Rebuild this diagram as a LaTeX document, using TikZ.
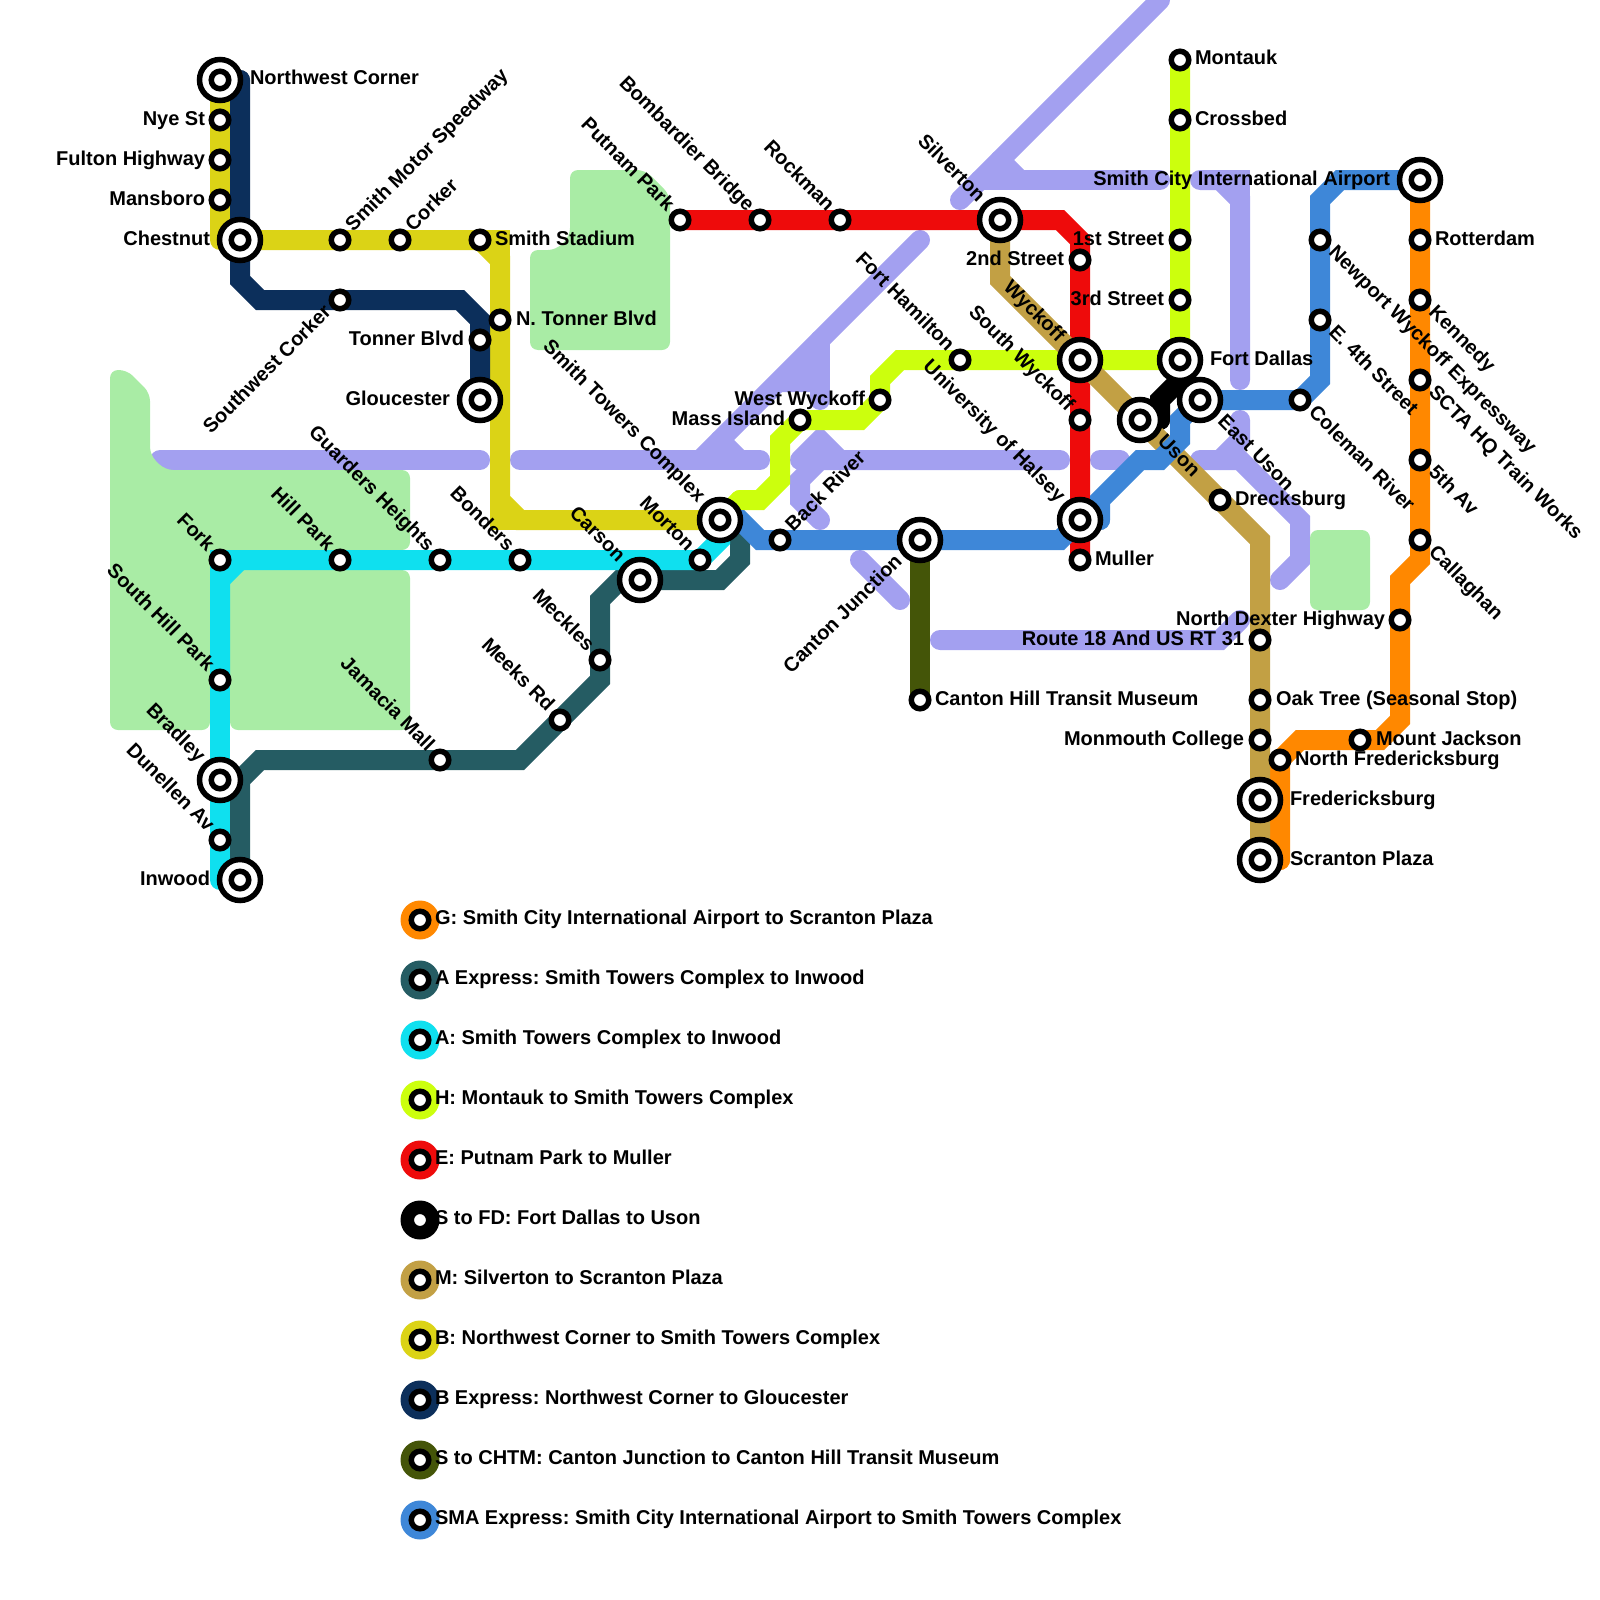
\documentclass[tikz,border=0pt]{standalone}
\usepackage{fontspec}
\setmainfont{Liberation Sans}
\usetikzlibrary{calc}
\pgfdeclarelayer{bg}
\pgfsetlayers{bg,main}
\definecolor{cpark}{HTML}{A9ECA5}
\definecolor{clav}{HTML}{A3A0F0}
\definecolor{cG}{HTML}{FF8800}
\definecolor{cAX}{HTML}{255C63}
\definecolor{cA}{HTML}{0FE0EF}
\definecolor{cH}{HTML}{CCFF0D}
\definecolor{cE}{HTML}{EE0B0B}
\definecolor{cM}{HTML}{C2A044}
\definecolor{cB}{HTML}{DBD316}
\definecolor{cBX}{HTML}{0C2F5B}
\definecolor{cS}{HTML}{445508}
\definecolor{cSMA}{HTML}{3E87D8}
\tikzset{
  smallst/.style={circle,draw=black,fill=white,line width=5.5pt,minimum size=17.5pt,inner sep=0pt,outer sep=0pt},
  bigst/.style={circle,draw=black,fill=white,line width=5.5pt,minimum size=41pt,inner sep=0pt,outer sep=0pt},
  lbl/.style={font=\fontsize{20}{20}\selectfont\bfseries\frenchspacing,inner sep=0pt,outer sep=0pt,text=black},
  route/.style={line width=20pt,line cap=round,line join=miter,miter limit=10},
  roundroute/.style={line width=20pt,line cap=round,line join=round},
  keydot/.style={circle,minimum size=39pt,inner sep=0pt,outer sep=0pt},
  park/.style={fill=cpark,rounded corners=8pt}
}
\newcommand{\stn}[3]{\node[smallst] (#1) at (#2,#3) {};}
\newcommand{\bigstn}[3]{\node[bigst] (#1) at (#2,#3) {};\node[smallst] (#1i) at (#1.center) {};}
\newcommand{\lR}[3]{\node[lbl,anchor=base west] (#1-l) at ($(#1.center)+(#2,5)$) {#3};}
\newcommand{\lL}[3]{\node[lbl,anchor=base east] (#1-l) at ($(#1.center)+(-#2,5)$) {#3};}
\newcommand{\lSE}[3]{\node[lbl,rotate=-45,anchor=base west] (#1-l) at ($(#1.center)+({0.707*#2-2.83},{0.707*#2+2.83})$) {#3};}
\newcommand{\lNW}[3]{\node[lbl,rotate=-45,anchor=base east] (#1-l) at ($(#1.center)+({-0.707*#2-2.83},{-0.707*#2+2.83})$) {#3};}
\newcommand{\lNE}[3]{\node[lbl,rotate=45,anchor=base west] (#1-l) at ($(#1.center)+({0.707*#2+2.83},{-0.707*#2+2.83})$) {#3};}
\newcommand{\lSW}[3]{\node[lbl,rotate=45,anchor=base east] (#1-l) at ($(#1.center)+({-0.707*#2+2.83},{0.707*#2+2.83})$) {#3};}
\newcommand{\keyrow}[4]{%
  \node[keydot,fill=#2] (key#1) at (420,#3) {};
  \node[smallst] (key#1i) at (key#1.center) {};
  \node[lbl,anchor=base west] (key#1t) at (435,#3+4) {#4};}
\begin{document}
\begin{tikzpicture}[x=1pt,y=-1pt]
\useasboundingbox (0,0) rectangle (1600,1600);
\clip (0,0) rectangle (1600,1600);
% stations
\bigstn{nwc}{220}{80}
\stn{nye}{220}{120}
\stn{fulton}{220}{160}
\stn{mansboro}{220}{200}
\bigstn{chestnut}{240}{240}
\stn{smithmotor}{340}{240}
\stn{corker}{400}{240}
\stn{stadium}{480}{240}
\stn{swcorker}{340}{300}
\stn{ntonner}{500}{320}
\stn{tonner}{480}{340}
\bigstn{gloucester}{480}{400}
\stn{fork}{220}{560}
\stn{hillpark}{340}{560}
\stn{guarders}{440}{560}
\stn{bonders}{520}{560}
\bigstn{carson}{640}{580}
\stn{morton}{700}{560}
\bigstn{towers}{720}{520}
\stn{backriver}{780}{540}
\bigstn{canton}{920}{540}
\stn{muller}{1080}{560}
\bigstn{halsey}{1080}{520}
\stn{swyckoff}{1080}{420}
\bigstn{wyckoff}{1080}{360}
\stn{hamilton}{960}{360}
\stn{wwyckoff}{880}{400}
\stn{mass}{800}{420}
\bigstn{silverton}{1000}{220}
\stn{second}{1080}{260}
\stn{first}{1180}{240}
\stn{third}{1180}{300}
\bigstn{dallas}{1180}{360}
\bigstn{uson}{1140}{420}
\bigstn{euson}{1200}{400}
\stn{coleman}{1300}{400}
\stn{efourth}{1320}{320}
\stn{newport}{1320}{240}
\bigstn{airport}{1420}{180}
\stn{rotterdam}{1420}{240}
\stn{kennedy}{1420}{300}
\stn{scta}{1420}{380}
\stn{fifth}{1420}{460}
\stn{callaghan}{1420}{540}
\stn{ndexter}{1400}{620}
\stn{jackson}{1360}{740}
\stn{nfred}{1280}{760}
\bigstn{fred}{1260}{800}
\bigstn{scranton}{1260}{860}
\stn{oak}{1260}{700}
\stn{monmouth}{1260}{740}
\stn{routeeighteen}{1260}{640}
\stn{drecksburg}{1220}{500}
\stn{museum}{920}{700}
\stn{montauk}{1180}{60}
\stn{crossbed}{1180}{120}
\stn{putnam}{680}{220}
\stn{bombardier}{760}{220}
\stn{rockman}{840}{220}
\stn{shpark}{220}{680}
\bigstn{bradley}{220}{780}
\stn{dunellen}{220}{840}
\bigstn{inwood}{240}{880}
\stn{jamacia}{440}{760}
\stn{meeks}{560}{720}
\stn{meckles}{600}{660}
% lines
\begin{pgfonlayer}{bg}
\begin{scope}[clav,route]
\draw (160,460) -- (480,460);
\draw (520,460) -- (760,460);
\draw (700,460) -- (920,240);
\draw (720,440) -- (740,460);
\draw (820,340) -- (820,400);
\fill (770,392) -- (814,348) -- (814,392) -- cycle;
\draw (820,520) -- (800,500) -- (800,480) -- (820,460) -- (1060,460);
\draw (800,460) -- (820,440) -- (840,460);
\draw (1100,460) -- (1120,460);
\draw (1160,0) -- (960,200);
\draw (980,180) -- (1160,180);
\draw (1000,160) -- (1020,180);
\draw (1200,180) -- (1220,180) -- (1240,200) -- (1240,380);
\draw (1220,180) -- (1240,180) -- (1240,200);
\draw (1200,460) -- (1240,460) -- (1300,520) -- (1300,560) -- (1280,580);
\draw (1240,420) -- (1240,440) -- (1220,460);
\draw (860,560) -- (900,600);
\draw (940,640) -- (1220,640) -- (1240,620);
\end{scope}
\fill[park] (110,370) -- (127,370) -- (150,393) -- (150,455) -- (165,470) -- (410,470) -- (410,550) -- (210,550) -- (210,730) -- (110,730) -- cycle;
\fill[park] (230,570) rectangle (410,730);
\fill[park] (570,170) -- (645,170) -- (670,195) -- (670,350) -- (530,350) -- (530,250) -- (556,250) -- (570,236) -- cycle;
\fill[park] (1310,530) rectangle (1370,610);
\draw[route,cG] (airport.center) -- (callaghan.center) -- (1420,560) -- (1400,580) -- (ndexter.center) -- (1400,720) -- (1380,740) -- (jackson.center) -- (1300,740) -- (nfred.center) -- (1280,860);
\draw[route,cG] (1280,860) -- (scranton.center);
\draw[route,cAX] (towers.center) -- (740,540) -- (740,560) -- (720,580) -- (carson.center) -- (620,580) -- (600,600) -- (meckles.center) -- (600,680) -- (meeks.center) -- (520,760) -- (jamacia.center) -- (260,760) -- (240,780) -- (inwood.center);
\draw[route,cA] (towers.center) -- (720,540) -- (morton.center) -- (fork.center) -- (shpark.center);
\draw[route,cA] (240,560) -- (220,580);
\draw[roundroute,cA] (shpark.center) -- (dunellen.center) -- (220,880) -- (inwood.center);
\draw[route,cH] (montauk.center) -- (dallas.center) -- (wyckoff.center) -- (900,360) -- (880,380) -- (wwyckoff.center) -- (860,420) -- (mass.center) -- (780,440) -- (780,480) -- (760,500) -- (740,500);
\draw[route,cH] (740,500) -- (towers.center);
\draw[route,cE] (putnam.center) -- (1060,220) -- (1080,240) -- (muller.center);
\draw[route,black] (dallas.center) -- (1180,380) -- (1160,400) -- (1160,420);
\draw[route,black] (1160,420) -- (uson.center);
\draw[route,cM] (silverton.center) -- (1000,280) -- (1260,540) -- (scranton.center);
\draw[roundroute,cB] (nwc.center) -- (mansboro.center) -- (220,240) -- (chestnut.center);
\draw[route,cB] (chestnut.center) -- (stadium.center) -- (500,260) -- (ntonner.center) -- (500,500) -- (520,520) -- (towers.center);
\draw[route,cB] (stadium.center) -- (500,240) -- (500,260);
\draw[route,cB] (500,500) -- (500,520) -- (520,520);
\draw[route,cBX] (nwc.center) -- (240,80);
\draw[route,cBX] (240,80) -- (chestnut.center) -- (240,280) -- (260,300) -- (460,300) -- (480,320) -- (gloucester.center);
\draw[route,cS] (canton.center) -- (museum.center);
\draw[route,cSMA] (airport.center) -- (1340,180) -- (1320,200) -- (1320,380) -- (coleman.center) -- (euson.center) -- (1180,420) -- (1180,440) -- (1160,460) -- (1140,460) -- (1100,500) -- (1100,520);
\draw[route,cSMA] (1100,520) -- (halsey.center) -- (1060,540) -- (760,540) -- (740,520) -- (towers.center);
\end{pgfonlayer}
% labels
\lR{nwc}{30}{Northwest Corner}
\lL{nye}{15}{Nye St}
\lL{fulton}{15}{Fulton Highway}
\lL{mansboro}{15}{Mansboro}
\lL{chestnut}{30}{Chestnut}
\lNE{smithmotor}{15}{Smith Motor Speedway}
\lNE{corker}{15}{Corker}
\lR{stadium}{15}{Smith Stadium}
\lSW{swcorker}{15}{Southwest Corker}
\lR{ntonner}{16}{N. Tonner Blvd}
\lL{tonner}{16}{Tonner Blvd}
\lL{gloucester}{30}{Gloucester}
\lNW{fork}{15}{Fork}
\lNW{hillpark}{15}{Hill Park}
\lNW{guarders}{15}{Guarders Heights}
\lNW{bonders}{15}{Bonders}
\lNW{carson}{28}{Carson}
\lNW{morton}{15}{Morton}
\lNW{towers}{28}{Smith Towers Complex}
\lNE{backriver}{15}{Back River}
\lSW{canton}{28}{Canton Junction}
\lR{muller}{15}{Muller}
\lNW{halsey}{28}{University of Halsey}
\lNW{swyckoff}{15}{South Wyckoff}
\lNW{wyckoff}{28}{Wyckoff}
\lNW{hamilton}{15}{Fort Hamilton}
\lL{wwyckoff}{15}{West Wyckoff}
\lL{mass}{15}{Mass Island}
\lNW{silverton}{28}{Silverton}
\lL{second}{16}{2nd Street}
\lL{first}{16}{1st Street}
\lL{third}{16}{3rd Street}
\lR{dallas}{30}{Fort Dallas}
\lSE{uson}{28}{Uson}
\lSE{euson}{28}{East Uson}
\lSE{coleman}{15}{Coleman River}
\lSE{efourth}{15}{E. 4th Street}
\lSE{newport}{15}{Newport Wyckoff Expressway}
\lL{airport}{30}{Smith City International Airport}
\lR{rotterdam}{15}{Rotterdam}
\lSE{kennedy}{15}{Kennedy}
\lSE{scta}{15}{SCTA HQ Train Works}
\lSE{fifth}{15}{5th Av}
\lSE{callaghan}{15}{Callaghan}
\lL{ndexter}{15}{North Dexter Highway}
\lR{jackson}{16}{Mount Jackson}
\lR{nfred}{15}{North Fredericksburg}
\lR{fred}{30}{Fredericksburg}
\lR{scranton}{30}{Scranton Plaza}
\lR{oak}{16}{Oak Tree (Seasonal Stop)}
\lL{monmouth}{16}{Monmouth College}
\lL{routeeighteen}{16}{Route 18 And US RT 31}
\lR{drecksburg}{15}{Drecksburg}
\lR{museum}{15}{Canton Hill Transit Museum}
\lR{montauk}{15}{Montauk}
\lR{crossbed}{15}{Crossbed}
\lNW{putnam}{15}{Putnam Park}
\lNW{bombardier}{15}{Bombardier Bridge}
\lNW{rockman}{15}{Rockman}
\lNW{shpark}{15}{South Hill Park}
\lNW{bradley}{28}{Bradley}
\lNW{dunellen}{15}{Dunellen Av}
\lL{inwood}{30}{Inwood}
\lNW{jamacia}{15}{Jamacia Mall}
\lNW{meeks}{15}{Meeks Rd}
\lNW{meckles}{15}{Meckles}
% key
\keyrow{a}{cG}{920}{G: Smith City International Airport to Scranton Plaza}
\keyrow{b}{cAX}{980}{A Express: Smith Towers Complex to Inwood}
\keyrow{c}{cA}{1040}{A: Smith Towers Complex to Inwood}
\keyrow{d}{cH}{1100}{H: Montauk to Smith Towers Complex}
\keyrow{e}{cE}{1160}{E: Putnam Park to Muller}
\keyrow{f}{black}{1220}{S to FD: Fort Dallas to Uson}
\keyrow{g}{cM}{1280}{M: Silverton to Scranton Plaza}
\keyrow{h}{cB}{1340}{B: Northwest Corner to Smith Towers Complex}
\keyrow{i}{cBX}{1400}{B Express: Northwest Corner to Gloucester}
\keyrow{j}{cS}{1460}{S to CHTM: Canton Junction to Canton Hill Transit Museum}
\keyrow{k}{cSMA}{1520}{SMA Express: Smith City International Airport to Smith Towers Complex}
\end{tikzpicture}
\end{document}
